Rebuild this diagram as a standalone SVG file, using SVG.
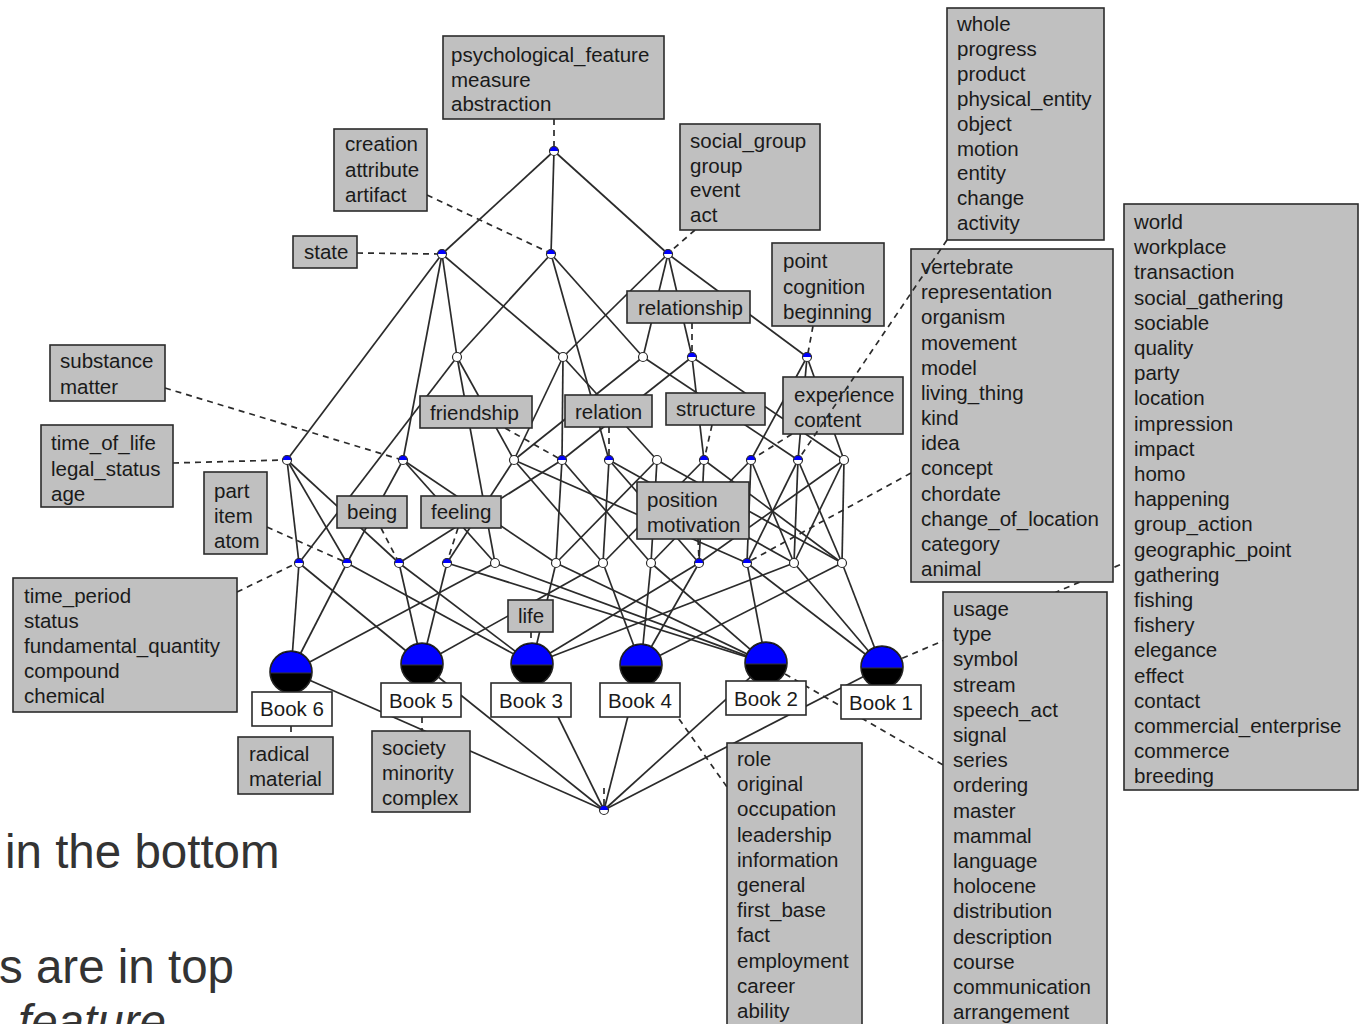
<svg xmlns="http://www.w3.org/2000/svg" xmlns:xlink="http://www.w3.org/1999/xlink" width="1360" height="1024" viewBox="0 0 1360 1024">
<style>
.e{stroke:#2b2b2b;stroke-width:1.7;fill:none}
.d{stroke:#2b2b2b;stroke-width:1.7;fill:none;stroke-dasharray:6,5}
.bx{fill:#c0c0c0;stroke:#2b2b2b;stroke-width:1.6}
.wb{fill:#fff;stroke:#2b2b2b;stroke-width:1.6}
.lb{font-family:"Liberation Sans",Arial,sans-serif;font-size:20.5px;fill:#1a1a1a}
.bl{font-family:"Liberation Sans",Arial,sans-serif;font-size:20.5px;fill:#1a1a1a;text-anchor:middle}
.big{font-family:"Liberation Sans",Arial,sans-serif;font-size:47.5px;fill:#333}
</style>
<defs>
<g id="sb"><circle r="4.5" fill="#fff"/><path d="M-4.5,0 A4.5,4.5 0 0 1 4.5,0 Z" fill="#0000ff"/><circle r="4.5" fill="none" stroke="#2b2b2b" stroke-width="1.2"/></g>
<g id="sw"><circle r="4.5" fill="#fff" stroke="#2b2b2b" stroke-width="1.2"/></g>
<g id="bk"><circle r="21" fill="#000"/><path d="M-21,1 A21,21 0 0 1 21,1 Z" fill="#0000ff"/><line x1="-21" y1="1" x2="21" y2="1" stroke="#333" stroke-width="1"/><circle r="21" fill="none" stroke="#222" stroke-width="1.6"/></g>
</defs>
<rect width="1360" height="1024" fill="#fff"/>

<g id="connectors">
<line class="e" x1="554" y1="151" x2="442" y2="254"/>
<line class="e" x1="554" y1="151" x2="551" y2="254"/>
<line class="e" x1="554" y1="151" x2="668" y2="254"/>
<line class="e" x1="442" y1="254" x2="287" y2="460"/>
<line class="e" x1="442" y1="254" x2="403" y2="460"/>
<line class="e" x1="442" y1="254" x2="457" y2="357"/>
<line class="e" x1="442" y1="254" x2="563" y2="357"/>
<line class="e" x1="551" y1="254" x2="457" y2="357"/>
<line class="e" x1="551" y1="254" x2="643" y2="357"/>
<line class="e" x1="551" y1="254" x2="609" y2="460"/>
<line class="e" x1="668" y1="254" x2="563" y2="357"/>
<line class="e" x1="668" y1="254" x2="643" y2="357"/>
<line class="e" x1="668" y1="254" x2="692" y2="357"/>
<line class="e" x1="668" y1="254" x2="807" y2="357"/>
<line class="e" x1="457" y1="357" x2="514" y2="460"/>
<line class="e" x1="457" y1="357" x2="299" y2="563"/>
<line class="e" x1="457" y1="357" x2="495" y2="563"/>
<line class="e" x1="563" y1="357" x2="514" y2="460"/>
<line class="e" x1="563" y1="357" x2="562" y2="460"/>
<line class="e" x1="563" y1="357" x2="657" y2="460"/>
<line class="e" x1="643" y1="357" x2="514" y2="460"/>
<line class="e" x1="643" y1="357" x2="798" y2="460"/>
<line class="e" x1="692" y1="357" x2="562" y2="460"/>
<line class="e" x1="692" y1="357" x2="704" y2="460"/>
<line class="e" x1="692" y1="357" x2="844" y2="460"/>
<line class="e" x1="807" y1="357" x2="751" y2="460"/>
<line class="e" x1="807" y1="357" x2="798" y2="460"/>
<line class="e" x1="807" y1="357" x2="844" y2="460"/>
<line class="e" x1="287" y1="460" x2="299" y2="563"/>
<line class="e" x1="287" y1="460" x2="347" y2="563"/>
<line class="e" x1="287" y1="460" x2="399" y2="563"/>
<line class="e" x1="403" y1="460" x2="347" y2="563"/>
<line class="e" x1="403" y1="460" x2="495" y2="563"/>
<line class="e" x1="403" y1="460" x2="556" y2="563"/>
<line class="e" x1="514" y1="460" x2="447" y2="563"/>
<line class="e" x1="514" y1="460" x2="603" y2="563"/>
<line class="e" x1="514" y1="460" x2="747" y2="563"/>
<line class="e" x1="562" y1="460" x2="399" y2="563"/>
<line class="e" x1="562" y1="460" x2="556" y2="563"/>
<line class="e" x1="562" y1="460" x2="651" y2="563"/>
<line class="e" x1="609" y1="460" x2="603" y2="563"/>
<line class="e" x1="609" y1="460" x2="699" y2="563"/>
<line class="e" x1="609" y1="460" x2="794" y2="563"/>
<line class="e" x1="657" y1="460" x2="556" y2="563"/>
<line class="e" x1="657" y1="460" x2="651" y2="563"/>
<line class="e" x1="657" y1="460" x2="842" y2="563"/>
<line class="e" x1="704" y1="460" x2="603" y2="563"/>
<line class="e" x1="704" y1="460" x2="699" y2="563"/>
<line class="e" x1="704" y1="460" x2="842" y2="563"/>
<line class="e" x1="751" y1="460" x2="651" y2="563"/>
<line class="e" x1="751" y1="460" x2="747" y2="563"/>
<line class="e" x1="751" y1="460" x2="794" y2="563"/>
<line class="e" x1="798" y1="460" x2="747" y2="563"/>
<line class="e" x1="798" y1="460" x2="794" y2="563"/>
<line class="e" x1="798" y1="460" x2="842" y2="563"/>
<line class="e" x1="844" y1="460" x2="699" y2="563"/>
<line class="e" x1="844" y1="460" x2="794" y2="563"/>
<line class="e" x1="844" y1="460" x2="842" y2="563"/>
<line class="e" x1="299" y1="563" x2="291" y2="672"/>
<line class="e" x1="299" y1="563" x2="422" y2="664"/>
<line class="e" x1="347" y1="563" x2="291" y2="672"/>
<line class="e" x1="347" y1="563" x2="532" y2="664"/>
<line class="e" x1="399" y1="563" x2="422" y2="664"/>
<line class="e" x1="399" y1="563" x2="532" y2="664"/>
<line class="e" x1="447" y1="563" x2="422" y2="664"/>
<line class="e" x1="447" y1="563" x2="766" y2="663"/>
<line class="e" x1="495" y1="563" x2="291" y2="672"/>
<line class="e" x1="495" y1="563" x2="766" y2="663"/>
<line class="e" x1="556" y1="563" x2="532" y2="664"/>
<line class="e" x1="556" y1="563" x2="766" y2="663"/>
<line class="e" x1="603" y1="563" x2="422" y2="664"/>
<line class="e" x1="603" y1="563" x2="641" y2="665"/>
<line class="e" x1="651" y1="563" x2="641" y2="665"/>
<line class="e" x1="651" y1="563" x2="766" y2="663"/>
<line class="e" x1="699" y1="563" x2="641" y2="665"/>
<line class="e" x1="699" y1="563" x2="532" y2="664"/>
<line class="e" x1="747" y1="563" x2="766" y2="663"/>
<line class="e" x1="747" y1="563" x2="882" y2="667"/>
<line class="e" x1="794" y1="563" x2="532" y2="664"/>
<line class="e" x1="794" y1="563" x2="882" y2="667"/>
<line class="e" x1="842" y1="563" x2="641" y2="665"/>
<line class="e" x1="842" y1="563" x2="882" y2="667"/>
<line class="e" x1="291" y1="672" x2="604" y2="810"/>
<line class="e" x1="422" y1="664" x2="604" y2="810"/>
<line class="e" x1="532" y1="664" x2="604" y2="810"/>
<line class="e" x1="641" y1="665" x2="604" y2="810"/>
<line class="e" x1="766" y1="663" x2="604" y2="810"/>
<line class="e" x1="882" y1="667" x2="604" y2="810"/>

<line class="d" x1="554" y1="119" x2="554" y2="147"/>
<line class="d" x1="427" y1="195" x2="548" y2="252"/>
<line class="d" x1="695" y1="230" x2="671" y2="251"/>
<line class="d" x1="357" y1="253" x2="438" y2="254"/>
<line class="d" x1="692" y1="323" x2="692" y2="353"/>
<line class="d" x1="813" y1="326" x2="808" y2="353"/>
<line class="d" x1="911" y1="473" x2="750" y2="561"/>
<line class="d" x1="165" y1="388" x2="399" y2="459"/>
<line class="d" x1="173" y1="463" x2="283" y2="460"/>
<line class="d" x1="505" y1="428" x2="558" y2="458"/>
<line class="d" x1="609" y1="427" x2="609" y2="456"/>
<line class="d" x1="712" y1="425" x2="705" y2="456"/>
<line class="d" x1="792" y1="434" x2="754" y2="458"/>
<line class="d" x1="267" y1="527" x2="343" y2="561"/>
<line class="d" x1="381" y1="528" x2="397" y2="559"/>
<line class="d" x1="458" y1="528" x2="448" y2="559"/>
<line class="d" x1="237" y1="592" x2="295" y2="564"/>
<line class="d" x1="698" y1="539" x2="699" y2="559"/>
<line class="d" x1="531" y1="632" x2="531" y2="643"/>
<line class="d" x1="291" y1="726" x2="291" y2="737"/>
<line class="d" x1="422" y1="717" x2="422" y2="731"/>
<line class="d" x1="641" y1="665" x2="727" y2="787"/>
<line class="d" x1="766" y1="663" x2="943" y2="765"/>
<line class="d" x1="882" y1="667" x2="1124" y2="563"/>
<line class="d" x1="604" y1="788" x2="604" y2="806"/>
</g>

<g id="node-top"><use xlink:href="#sb" x="554" y="151"/></g>
<g id="node-l1a"><use xlink:href="#sb" x="442" y="254"/></g>
<g id="node-l1b"><use xlink:href="#sb" x="551" y="254"/></g>
<g id="node-l1c"><use xlink:href="#sb" x="668" y="254"/></g>
<g id="node-a"><use xlink:href="#sw" x="457" y="357"/></g>
<g id="node-b"><use xlink:href="#sw" x="563" y="357"/></g>
<g id="node-c"><use xlink:href="#sw" x="643" y="357"/></g>
<g id="node-d"><use xlink:href="#sb" x="692" y="357"/></g>
<g id="node-e"><use xlink:href="#sb" x="807" y="357"/></g>
<g id="node-m1"><use xlink:href="#sb" x="287" y="460"/></g>
<g id="node-m2"><use xlink:href="#sb" x="403" y="460"/></g>
<g id="node-m3"><use xlink:href="#sw" x="514" y="460"/></g>
<g id="node-m4"><use xlink:href="#sb" x="562" y="460"/></g>
<g id="node-m5"><use xlink:href="#sb" x="609" y="460"/></g>
<g id="node-m6"><use xlink:href="#sw" x="657" y="460"/></g>
<g id="node-m7"><use xlink:href="#sb" x="704" y="460"/></g>
<g id="node-m8"><use xlink:href="#sb" x="751" y="460"/></g>
<g id="node-m9"><use xlink:href="#sb" x="798" y="460"/></g>
<g id="node-m10"><use xlink:href="#sw" x="844" y="460"/></g>
<g id="node-n1"><use xlink:href="#sb" x="299" y="563"/></g>
<g id="node-n2"><use xlink:href="#sb" x="347" y="563"/></g>
<g id="node-n3"><use xlink:href="#sb" x="399" y="563"/></g>
<g id="node-n4"><use xlink:href="#sb" x="447" y="563"/></g>
<g id="node-n5"><use xlink:href="#sw" x="495" y="563"/></g>
<g id="node-n6"><use xlink:href="#sw" x="556" y="563"/></g>
<g id="node-n7"><use xlink:href="#sw" x="603" y="563"/></g>
<g id="node-n8"><use xlink:href="#sw" x="651" y="563"/></g>
<g id="node-n9"><use xlink:href="#sb" x="699" y="563"/></g>
<g id="node-n10"><use xlink:href="#sb" x="747" y="563"/></g>
<g id="node-n11"><use xlink:href="#sw" x="794" y="563"/></g>
<g id="node-n12"><use xlink:href="#sw" x="842" y="563"/></g>
<g id="node-bottom"><use xlink:href="#sb" x="604" y="810"/></g>

<g id="node-book6"><use xlink:href="#bk" x="291" y="672"/><rect class="wb" x="252" y="692" width="80" height="34"/><text class="bl" x="292" y="716">Book 6</text></g>
<g id="node-book5"><use xlink:href="#bk" x="422" y="664"/><rect class="wb" x="381" y="683" width="80" height="34"/><text class="bl" x="421" y="708">Book 5</text></g>
<g id="node-book3"><use xlink:href="#bk" x="532" y="664"/><rect class="wb" x="491" y="683" width="80" height="34"/><text class="bl" x="531" y="708">Book 3</text></g>
<g id="node-book4"><use xlink:href="#bk" x="641" y="665"/><rect class="wb" x="600" y="683" width="80" height="34"/><text class="bl" x="640" y="708">Book 4</text></g>
<g id="node-book2"><use xlink:href="#bk" x="766" y="663"/><rect class="wb" x="726" y="681" width="80" height="34"/><text class="bl" x="766" y="706">Book 2</text></g>
<g id="node-book1"><use xlink:href="#bk" x="882" y="667"/><rect class="wb" x="841" y="685" width="80" height="34"/><text class="bl" x="881" y="710">Book 1</text></g>

<g id="label-psych"><rect class="bx" x="443" y="36" width="221" height="83"/><text class="lb" x="451" y="62"><tspan x="451">psychological_feature</tspan><tspan x="451" dy="24.5">measure</tspan><tspan x="451" dy="24.5">abstraction</tspan></text></g>
<g id="label-creation"><rect class="bx" x="334" y="129" width="93" height="82"/><text class="lb" x="345" y="151"><tspan x="345">creation</tspan><tspan x="345" dy="25.5">attribute</tspan><tspan x="345" dy="25.5">artifact</tspan></text></g>
<g id="label-social"><rect class="bx" x="680" y="124" width="140" height="106"/><text class="lb" x="690" y="148"><tspan x="690">social_group</tspan><tspan x="690" dy="24.5">group</tspan><tspan x="690" dy="24.5">event</tspan><tspan x="690" dy="24.5">act</tspan></text></g>
<g id="label-state"><rect class="bx" x="293" y="236" width="64" height="32"/><text class="lb" x="304" y="259">state</text></g>
<g id="label-whole"><rect class="bx" x="947" y="8" width="157" height="232"/><text class="lb" x="957" y="31"><tspan x="957">whole</tspan><tspan x="957" dy="24.9">progress</tspan><tspan x="957" dy="24.9">product</tspan><tspan x="957" dy="24.9">physical_entity</tspan><tspan x="957" dy="24.9">object</tspan><tspan x="957" dy="24.9">motion</tspan><tspan x="957" dy="24.9">entity</tspan><tspan x="957" dy="24.9">change</tspan><tspan x="957" dy="24.9">activity</tspan></text></g>
<g id="label-world"><rect class="bx" x="1124" y="204" width="234" height="586"/><text class="lb" x="1134" y="229"><tspan x="1134">world</tspan><tspan x="1134" dy="25.2">workplace</tspan><tspan x="1134" dy="25.2">transaction</tspan><tspan x="1134" dy="25.2">social_gathering</tspan><tspan x="1134" dy="25.2">sociable</tspan><tspan x="1134" dy="25.2">quality</tspan><tspan x="1134" dy="25.2">party</tspan><tspan x="1134" dy="25.2">location</tspan><tspan x="1134" dy="25.2">impression</tspan><tspan x="1134" dy="25.2">impact</tspan><tspan x="1134" dy="25.2">homo</tspan><tspan x="1134" dy="25.2">happening</tspan><tspan x="1134" dy="25.2">group_action</tspan><tspan x="1134" dy="25.2">geographic_point</tspan><tspan x="1134" dy="25.2">gathering</tspan><tspan x="1134" dy="25.2">fishing</tspan><tspan x="1134" dy="25.2">fishery</tspan><tspan x="1134" dy="25.2">elegance</tspan><tspan x="1134" dy="25.2">effect</tspan><tspan x="1134" dy="25.2">contact</tspan><tspan x="1134" dy="25.2">commercial_enterprise</tspan><tspan x="1134" dy="25.2">commerce</tspan><tspan x="1134" dy="25.2">breeding</tspan></text></g>
<g id="label-point"><rect class="bx" x="772" y="243" width="112" height="83"/><text class="lb" x="783" y="268"><tspan x="783">point</tspan><tspan x="783" dy="25.5">cognition</tspan><tspan x="783" dy="25.5">beginning</tspan></text></g>
<g id="label-relationship"><rect class="bx" x="627" y="291" width="123" height="32"/><text class="lb" x="638" y="315">relationship</text></g>
<g id="label-vertebrate"><rect class="bx" x="911" y="249" width="202" height="333"/><text class="lb" x="921" y="274"><tspan x="921">vertebrate</tspan><tspan x="921" dy="25.17">representation</tspan><tspan x="921" dy="25.17">organism</tspan><tspan x="921" dy="25.17">movement</tspan><tspan x="921" dy="25.17">model</tspan><tspan x="921" dy="25.17">living_thing</tspan><tspan x="921" dy="25.17">kind</tspan><tspan x="921" dy="25.17">idea</tspan><tspan x="921" dy="25.17">concept</tspan><tspan x="921" dy="25.17">chordate</tspan><tspan x="921" dy="25.17">change_of_location</tspan><tspan x="921" dy="25.17">category</tspan><tspan x="921" dy="25.17">animal</tspan></text></g>
<g id="label-substance"><rect class="bx" x="50" y="345" width="115" height="56"/><text class="lb" x="60" y="368"><tspan x="60">substance</tspan><tspan x="60" dy="26">matter</tspan></text></g>
<g id="label-friendship"><rect class="bx" x="420" y="396" width="112" height="32"/><text class="lb" x="430" y="420">friendship</text></g>
<g id="label-relation"><rect class="bx" x="565" y="395" width="87" height="32"/><text class="lb" x="575" y="419">relation</text></g>
<g id="label-structure"><rect class="bx" x="666" y="393" width="99" height="32"/><text class="lb" x="676" y="416">structure</text></g>
<g id="label-experience"><rect class="bx" x="783" y="377" width="120" height="57"/><text class="lb" x="794" y="402"><tspan x="794">experience</tspan><tspan x="794" dy="25">content</tspan></text></g>
<g id="label-timeoflife"><rect class="bx" x="41" y="425" width="132" height="82"/><text class="lb" x="51" y="450"><tspan x="51">time_of_life</tspan><tspan x="51" dy="25.5">legal_status</tspan><tspan x="51" dy="25.5">age</tspan></text></g>
<g id="label-part"><rect class="bx" x="204" y="472" width="63" height="82"/><text class="lb" x="214" y="498"><tspan x="214">part</tspan><tspan x="214" dy="25">item</tspan><tspan x="214" dy="25">atom</tspan></text></g>
<g id="label-being"><rect class="bx" x="337" y="496" width="70" height="32"/><text class="lb" x="347" y="519">being</text></g>
<g id="label-feeling"><rect class="bx" x="421" y="496" width="80" height="32"/><text class="lb" x="431" y="519">feeling</text></g>
<g id="label-position"><rect class="bx" x="637" y="482" width="112" height="57"/><text class="lb" x="647" y="507"><tspan x="647">position</tspan><tspan x="647" dy="25">motivation</tspan></text></g>
<g id="label-timeperiod"><rect class="bx" x="13" y="578" width="224" height="134"/><text class="lb" x="24" y="603"><tspan x="24">time_period</tspan><tspan x="24" dy="25">status</tspan><tspan x="24" dy="25">fundamental_quantity</tspan><tspan x="24" dy="25">compound</tspan><tspan x="24" dy="25">chemical</tspan></text></g>
<g id="label-life"><rect class="bx" x="508" y="600" width="45" height="32"/><text class="lb" x="518" y="623">life</text></g>
<g id="label-radical"><rect class="bx" x="238" y="737" width="95" height="57"/><text class="lb" x="249" y="761"><tspan x="249">radical</tspan><tspan x="249" dy="24.5">material</tspan></text></g>
<g id="label-society"><rect class="bx" x="372" y="731" width="98" height="81"/><text class="lb" x="382" y="755"><tspan x="382">society</tspan><tspan x="382" dy="25">minority</tspan><tspan x="382" dy="25">complex</tspan></text></g>
<g id="label-role"><rect class="bx" x="727" y="743" width="135" height="295"/><text class="lb" x="737" y="766"><tspan x="737">role</tspan><tspan x="737" dy="25.2">original</tspan><tspan x="737" dy="25.2">occupation</tspan><tspan x="737" dy="25.2">leadership</tspan><tspan x="737" dy="25.2">information</tspan><tspan x="737" dy="25.2">general</tspan><tspan x="737" dy="25.2">first_base</tspan><tspan x="737" dy="25.2">fact</tspan><tspan x="737" dy="25.2">employment</tspan><tspan x="737" dy="25.2">career</tspan><tspan x="737" dy="25.2">ability</tspan></text></g>
<g id="label-usage"><rect class="bx" x="943" y="592" width="164" height="446"/><text class="lb" x="953" y="616"><tspan x="953">usage</tspan><tspan x="953" dy="25.2">type</tspan><tspan x="953" dy="25.2">symbol</tspan><tspan x="953" dy="25.2">stream</tspan><tspan x="953" dy="25.2">speech_act</tspan><tspan x="953" dy="25.2">signal</tspan><tspan x="953" dy="25.2">series</tspan><tspan x="953" dy="25.2">ordering</tspan><tspan x="953" dy="25.2">master</tspan><tspan x="953" dy="25.2">mammal</tspan><tspan x="953" dy="25.2">language</tspan><tspan x="953" dy="25.2">holocene</tspan><tspan x="953" dy="25.2">distribution</tspan><tspan x="953" dy="25.2">description</tspan><tspan x="953" dy="25.2">course</tspan><tspan x="953" dy="25.2">communication</tspan><tspan x="953" dy="25.2">arrangement</tspan></text></g>

<g id="connector-whole"><line class="d" x1="947" y1="240" x2="800" y2="457"/></g>

<g id="caption">
<text class="big" x="5" y="868">in the bottom</text>
<text class="big" x="-1" y="983">s are in top</text>
<text class="big" x="18" y="1038" font-style="italic">feature</text>
</g>
</svg>
